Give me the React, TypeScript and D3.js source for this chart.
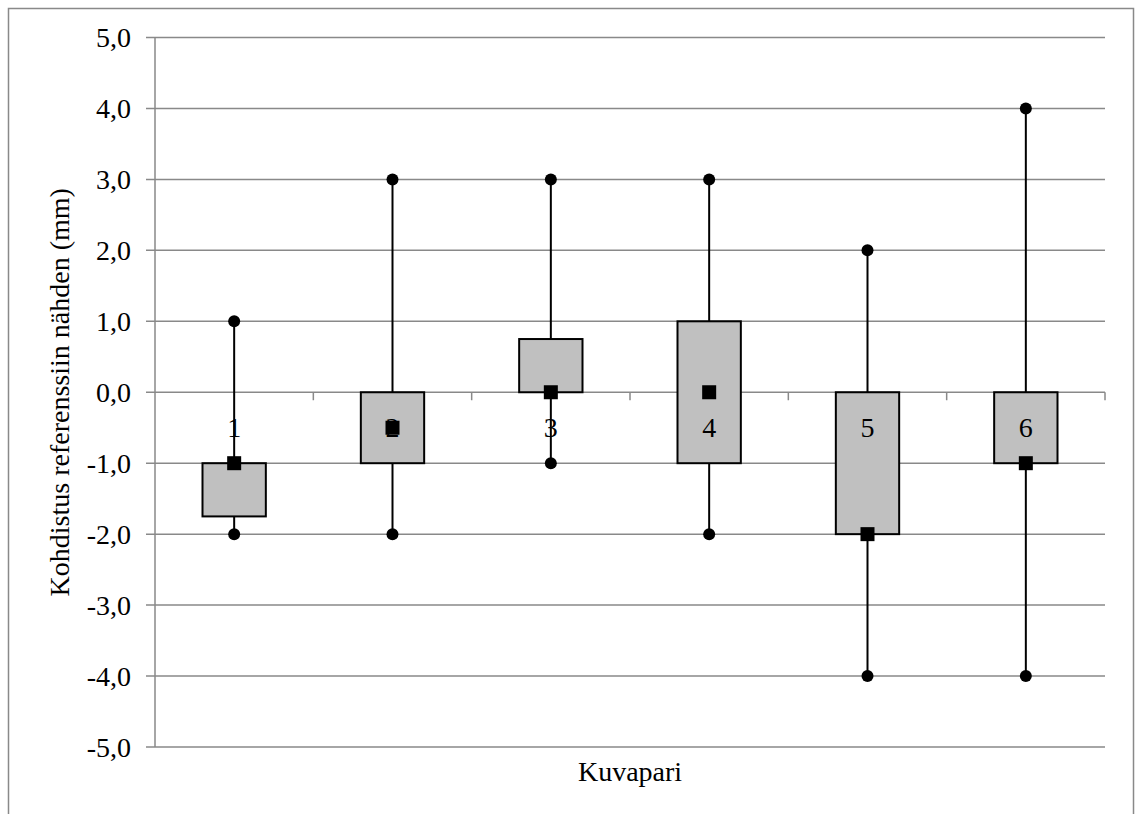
import React, { useEffect, useRef } from 'react'
import * as d3 from 'd3'

const categories = ['1', '2', '3', '4', '5', '6']
const maxValues = [1, 3, 3, 3, 2, 4]
const q3Values = [-1, 0, 0.75, 1, 0, 0]
const medianValues = [-1, -0.5, 0, 0, -2, -1]
const q1Values = [-1.75, -1, 0, -1, -2, -1]
const minValues = [-2, -2, -1, -2, -4, -4]
const yTicks = [5, 4, 3, 2, 1, 0, -1, -2, -3, -4, -5]

const App = () => {
  const svgRef = useRef<SVGSVGElement>(null)
  const width = 1135
  const height = 814
  const margin = { top: 37.5, right: 30, bottom: 67, left: 155 }

  useEffect(() => {
    const svg = d3.select(svgRef.current)
    svg.selectAll('*').remove()
    const font = 'Liberation Serif, Times New Roman, serif'

    const x = d3
      .scaleBand()
      .domain(categories)
      .range([margin.left, width - margin.right])
      .padding(0)
    const y = d3
      .scaleLinear()
      .domain([-5, 5])
      .range([height - margin.bottom, margin.top])

    // outer border
    svg
      .append('rect')
      .attr('x', 8.5)
      .attr('y', 8.5)
      .attr('width', 1125)
      .attr('height', 830)
      .attr('fill', 'white')
      .attr('stroke', '#898989')
      .attr('stroke-width', 1.5)

    // gridlines
    svg
      .append('g')
      .selectAll('line')
      .data(yTicks)
      .join('line')
      .attr('x1', margin.left - 9)
      .attr('x2', width - margin.right)
      .attr('y1', (d) => y(d))
      .attr('y2', (d) => y(d))
      .attr('stroke', '#898989')
      .attr('stroke-width', 1.5)

    // y axis line
    svg
      .append('line')
      .attr('x1', margin.left)
      .attr('x2', margin.left)
      .attr('y1', y(5))
      .attr('y2', y(-5))
      .attr('stroke', '#898989')
      .attr('stroke-width', 1.5)

    // y tick labels
    svg
      .append('g')
      .selectAll('text')
      .data(yTicks)
      .join('text')
      .attr('x', margin.left - 24)
      .attr('y', (d) => y(d))
      .attr('dy', '0.35em')
      .attr('text-anchor', 'end')
      .attr('font-family', font)
      .attr('font-size', 28)
      .text((d) => d.toFixed(1).replace('.', ','))

    // category ticks on the zero line
    const bounds = categories.map((c) => (x(c) as number) + x.bandwidth())
    svg
      .append('g')
      .selectAll('line')
      .data(bounds)
      .join('line')
      .attr('x1', (d) => d)
      .attr('x2', (d) => d)
      .attr('y1', y(0))
      .attr('y2', y(0) + 8)
      .attr('stroke', '#898989')
      .attr('stroke-width', 1.5)

    const boxW = x.bandwidth() * 0.4
    const cx = (i: number) => (x(categories[i]) as number) + x.bandwidth() / 2

    // boxes
    svg
      .append('g')
      .selectAll('rect')
      .data(categories)
      .join('rect')
      .attr('x', (d, i) => cx(i) - boxW / 2)
      .attr('y', (d, i) => y(q3Values[i]))
      .attr('width', boxW)
      .attr('height', (d, i) => y(q1Values[i]) - y(q3Values[i]))
      .attr('fill', '#c0c0c0')
      .attr('stroke', 'black')
      .attr('stroke-width', 2)

    // category labels
    svg
      .append('g')
      .selectAll('text')
      .data(categories)
      .join('text')
      .attr('x', (d, i) => cx(i))
      .attr('y', y(0) + 45)
      .attr('text-anchor', 'middle')
      .attr('font-family', font)
      .attr('font-size', 28)
      .text((d) => d)

    // whiskers
    const wg = svg.append('g')
    categories.forEach((c, i) => {
      wg.append('line')
        .attr('x1', cx(i))
        .attr('x2', cx(i))
        .attr('y1', y(maxValues[i]))
        .attr('y2', y(q3Values[i]))
        .attr('stroke', 'black')
        .attr('stroke-width', 2)
      wg.append('line')
        .attr('x1', cx(i))
        .attr('x2', cx(i))
        .attr('y1', y(q1Values[i]))
        .attr('y2', y(minValues[i]))
        .attr('stroke', 'black')
        .attr('stroke-width', 2)
    })

    // min / max dots
    const dots = categories.flatMap((c, i) => [
      { i, v: maxValues[i] },
      { i, v: minValues[i] },
    ])
    svg
      .append('g')
      .selectAll('circle')
      .data(dots)
      .join('circle')
      .attr('cx', (d) => cx(d.i))
      .attr('cy', (d) => y(d.v))
      .attr('r', 6)
      .attr('fill', 'black')

    // median squares
    svg
      .append('g')
      .selectAll('rect')
      .data(medianValues)
      .join('rect')
      .attr('x', (d, i) => cx(i) - 7)
      .attr('y', (d) => y(d) - 7)
      .attr('width', 14)
      .attr('height', 14)
      .attr('fill', 'black')

    // axis titles
    svg
      .append('text')
      .attr('transform', `translate(69, ${(y(5) + y(-5)) / 2}) rotate(-90)`)
      .attr('text-anchor', 'middle')
      .attr('font-family', font)
      .attr('font-size', 28)
      .text('Kohdistus referenssiin nähden (mm)')

    svg
      .append('text')
      .attr('x', (margin.left + width - margin.right) / 2)
      .attr('y', 781)
      .attr('text-anchor', 'middle')
      .attr('font-family', font)
      .attr('font-size', 28)
      .text('Kuvapari')
  }, [])

  return (
    <svg
      ref={svgRef}
      width={width}
      height={height}
      style={{ position: 'absolute', left: 0, top: 0 }}
    ></svg>
  )
}

export default App
